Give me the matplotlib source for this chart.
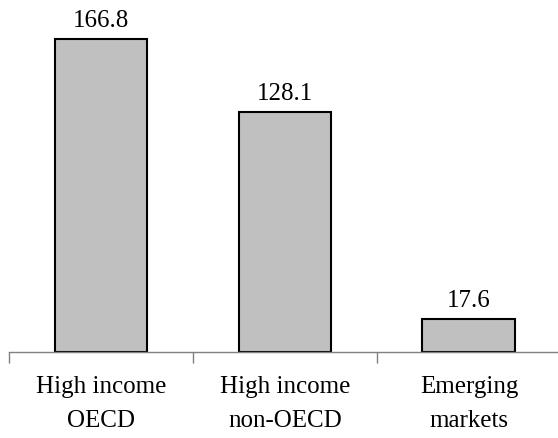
import matplotlib
matplotlib.use("Agg")
import matplotlib.pyplot as plt

# values per group
groups = ["High income\nOECD", "High income\nnon-OECD", "Emerging\nmarkets"]
values = [166.8, 128.1, 17.6]

plt.rcParams["font.family"] = ["Liberation Serif", "DejaVu Serif"]

fig = plt.figure(figsize=(5.58, 4.38), dpi=100)
ax = fig.add_axes([9 / 558, 86 / 438, 1 - 9 / 558, 352 / 438])

x = list(range(len(values)))
bars = ax.bar(x, values, width=0.505, color="#c0c0c0", edgecolor="black", linewidth=1.5)

for b, v in zip(bars, values):
    ax.annotate(f"{v:.1f}", (b.get_x() + b.get_width() / 2, v),
                xytext=(0, 5), textcoords="offset points",
                ha="center", va="bottom", fontsize=18)

ax.set_xlim(-0.5, 2.484)
ax.set_ylim(0, 187.5)

# boundary ticks on the category axis, labels centred under the bars
ax.set_xticks([-0.5, 0.5, 1.5])
ax.set_xticklabels([])
ax.set_xticks(x, minor=True)
ax.set_xticklabels(groups, minor=True, fontsize=18, linespacing=1.7)
ax.tick_params(axis="x", which="major", direction="out", length=8, width=1, color="#808080")
ax.tick_params(axis="x", which="minor", length=0, pad=17)
ax.set_yticks([])

for side in ["top", "right", "left"]:
    ax.spines[side].set_visible(False)
ax.spines["bottom"].set_color("#808080")
ax.spines["bottom"].set_linewidth(1)

fig.savefig("out.png", dpi=100)
